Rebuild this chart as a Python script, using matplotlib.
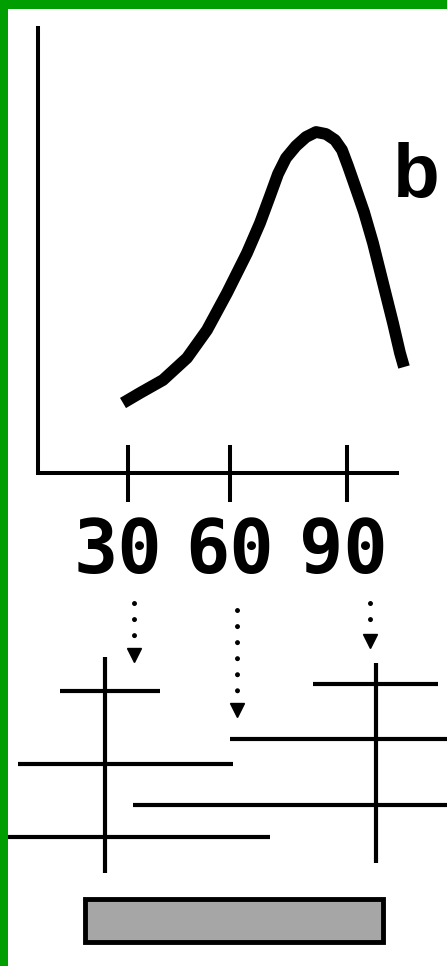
import numpy as np
from matplotlib import pyplot as plt

# curve (pixel coordinates of the drawing)
curve_x = [123, 140, 163, 187, 207, 227, 247, 260, 270, 278, 286, 296, 306, 316, 326, 335, 342, 348,
           355, 364, 373, 383, 393, 400, 404]
curve_y = [403, 393, 380, 358, 330, 293, 253, 223, 196, 174, 158, 146, 137, 132, 134, 140, 150, 166,
           186, 212, 243, 283, 323, 353, 367]
curve_label = 'b'

tick_pos = [128, 230, 347]
tick_labels = ['30', '60', '90']
label_x = [118, 230, 343]

# dotted arrows from the ticks down to the intervals
arrow_x = [134, 237, 370]
arrow_top = [603, 610, 603]
arrow_tip = [655, 710, 641]

# horizontal intervals
seg_y = [691, 684, 739, 764, 805, 837]
seg_x0 = [60, 313, 230, 18, 133, 0]
seg_x1 = [160, 438, 447, 233, 447, 270]

# vertical markers
vline_x = [105, 376]
vline_top = [657, 663]
vline_bottom = [873, 863]

# grey bar
bar_left, bar_right = 85, 383
bar_top, bar_bottom = 899, 942

fig = plt.figure(figsize=(4.47, 9.66), dpi=100)
fig.patch.set_facecolor('#009e00')
ax = fig.add_axes([8 / 447, 0, 439 / 447, 957 / 966])
ax.set_facecolor('white')
ax.set_xlim(8, 447)
ax.set_ylim(966, 9)
for s in ax.spines.values():
    s.set_visible(False)
ax.set_xticks([])
ax.set_yticks([])

# axes of the small chart
ax.plot([38, 38, 397], [28, 473, 473], color='black', lw=2.9, solid_joinstyle='miter')
for x in tick_pos:
    ax.plot([x, x], [447, 500], color='black', lw=2.9)
for x, t in zip(label_x, tick_labels):
    ax.text(x, 573, t, ha='center', va='baseline', fontsize=53,
            family='DejaVu Sans Mono', weight='bold')

ax.plot(curve_x, curve_y, color='black', lw=8.5, solid_capstyle='butt', solid_joinstyle='round')
ax.text(416, 197, curve_label, ha='center', va='baseline', fontsize=55,
        family='Liberation Sans', weight='bold')

for x, y0, y1 in zip(arrow_x, arrow_top, arrow_tip):
    ax.plot([x, x], [y0, y1 - 12], color='black', lw=3.6, linestyle=(0, (0.01, 3.2)),
            dash_capstyle='round')
    ax.plot([x], [y1], marker='v', color='black', markersize=10)

for y, x0, x1 in zip(seg_y, seg_x0, seg_x1):
    ax.plot([x0, x1], [y, y], color='black', lw=3, solid_capstyle='butt')

for x, y0, y1 in zip(vline_x, vline_top, vline_bottom):
    ax.plot([x, x], [y0, y1], color='black', lw=3, solid_capstyle='butt')

ax.barh((bar_top + bar_bottom) / 2, bar_right - bar_left, left=bar_left,
        height=bar_bottom - bar_top, color='#a6a6a6', edgecolor='black', linewidth=3.5)

fig.savefig('out.png', dpi=100, facecolor=fig.get_facecolor())
